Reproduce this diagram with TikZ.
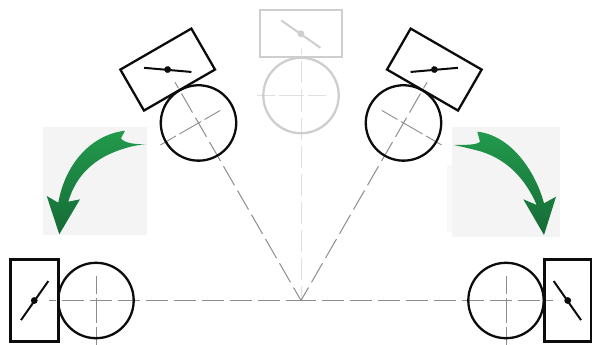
\documentclass[tikz,border=0pt]{standalone}
\begin{document}
\begin{tikzpicture}[x=1pt,y=-1pt,
  backpanel/.style={fill=panelgrey,draw=none},
  swoosh/.style={top color=arrowlight,bottom color=arrowdark,draw=none},
  axisline/.style={line width=1pt,dash pattern=on 22pt off 6pt,dash phase=7pt},
  crossline/.style={line width=0.9pt,dash pattern=on 18pt off 4pt on 25pt off 4pt on 18pt off 100pt,dash phase=0pt},
  pics/unit/.style n args={3}{code={
    \draw[axisline,draw=#3] (0,0) -- (0,-252);
    \draw[crossline,draw=#3] (-44,-205) -- (44,-205);
    \draw[line width=#2,draw=#1] (-41,-290.3) rectangle (41,-243);
    \draw[line width=2.3pt,draw=#1] (0,-205) circle[radius=37.7];
    \draw[line width=2pt,draw=#1] (-19.6,-280) -- (19.4,-252.7);
    \fill[#1] (0,-266.7) circle[radius=3.4pt];
  }}]
\definecolor{panelgrey}{HTML}{F4F4F4}
\definecolor{arrowlight}{HTML}{229A4C}
\definecolor{arrowdark}{HTML}{156B36}
\definecolor{inkblack}{HTML}{0C0C0C}
\definecolor{ghost}{HTML}{CECECE}
\definecolor{axisgrey}{HTML}{8C8C8C}
\definecolor{ghostaxis}{HTML}{E0E0E0}
\useasboundingbox (0,0) rectangle (592,345);
\coordinate (pivot) at (301,300.5);
% panels behind the arrows
\fill[backpanel] (43.3,126.7) rectangle (147.3,235);
\fill[panelgrey!50!white] (447,165) rectangle (452,232);
\fill[backpanel] (452,127) rectangle (560,237);
% ghost unit
\pic at (pivot) {unit={ghost}{2pt}{ghostaxis}};
% black units
\pic[rotate=30] at (pivot) {unit={inkblack}{2.3pt}{axisgrey}};
\pic[rotate=-30,xscale=-1] at (pivot) {unit={inkblack}{2.3pt}{axisgrey}};
\pic[rotate=90] at (pivot) {unit={inkblack}{3pt}{axisgrey}};
\pic[rotate=-90,xscale=-1] at (pivot) {unit={inkblack}{3pt}{axisgrey}};
% arrows
\path[swoosh] (146,144.3) .. controls (135,144.5) and (124,143) .. (121,138.3)
  -- (125,130.7) .. controls (90,135) and (65,165) .. (58.3,202.7)
  -- (46.7,196) -- (59.3,234.3) -- (80,199.3) -- (68.3,201.7)
  .. controls (76,175) and (95,157) .. (125,148.3)
  .. controls (132,146) and (138,145) .. (146,144.3) -- cycle;
\path[swoosh] (454,145) .. controls (465,145) and (477,145) .. (480,141.7)
  -- (477.3,131.7) .. controls (510,135) and (535,170) .. (544,203.3)
  -- (556,196.7) -- (544,235) -- (523.3,199.3) -- (536.7,205)
  .. controls (525,178) and (507,160) .. (481.7,151.7)
  .. controls (472,149) and (463,147) .. (454,145) -- cycle;
\end{tikzpicture}
\end{document}
